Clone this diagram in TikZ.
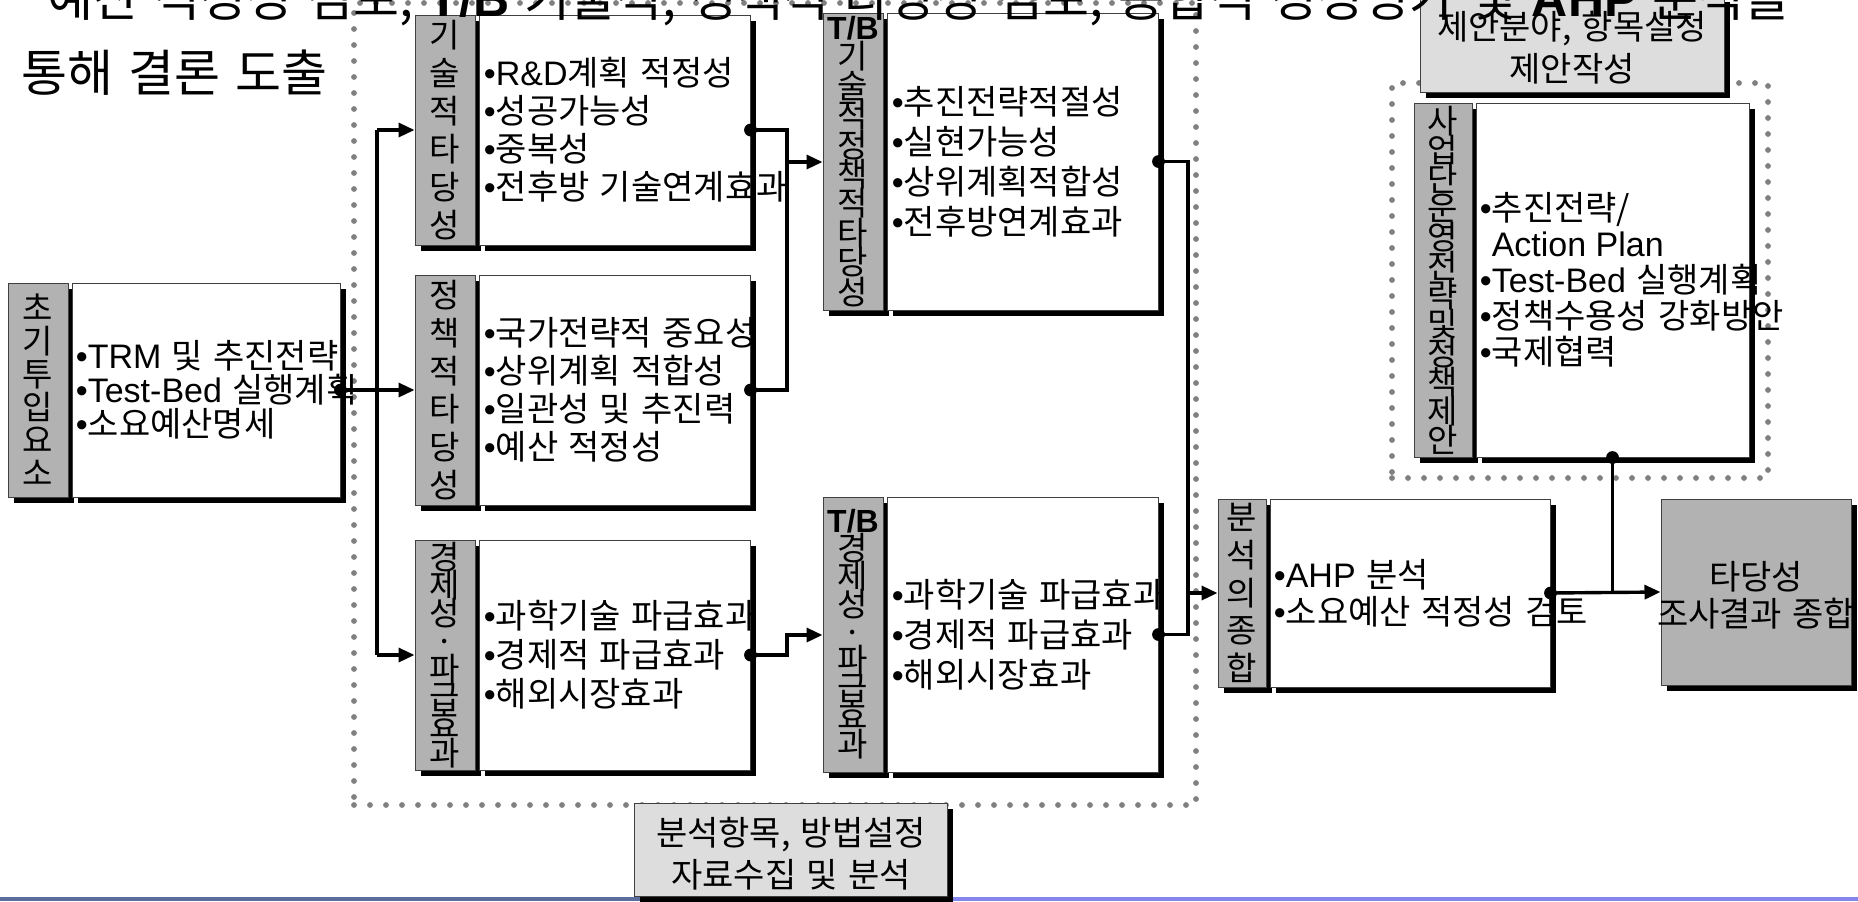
\documentclass[tikz,border=0pt]{standalone}
\usepackage{fontspec}
\setmainfont{Noto Sans CJK KR}[WordSpace=1.35]
\newfontfamily\en{Liberation Sans}
\usetikzlibrary{arrows.meta,shadows,fit}
\lineskiplimit=-\maxdimen

\definecolor{stripgray}{HTML}{B2B2B2}
\definecolor{taggray}{HTML}{DDDDDD}
\definecolor{dotgray}{HTML}{808080}
\definecolor{barslate}{HTML}{5C6C9C}
\definecolor{barblue}{HTML}{8585EE}

\newcommand{\itm}{{\en •}}
\newcommand{\tbmark}{{\en\bfseries\fontsize{16}{14}\selectfont T/B}}

\tikzset{
  boxframe/.style={draw=black!75, line width=0.5pt, inner sep=0pt,
    general shadow={fill=black, shadow xshift=3pt, shadow yshift=-3pt}},
  strip/.style={boxframe, fill=stripgray},
  panel/.style={boxframe, fill=white},
  stack/.style={inner sep=0pt, align=center},
  items/.style={inner sep=0pt, anchor=west, align=left, font=\fontsize{17}{19}\selectfont},
  tagbox/.style={boxframe, fill=taggray},
  tagtext/.style={inner sep=0pt, align=center, font=\fontsize{17}{21}\selectfont},
  zone/.style={draw=dotgray, line width=2.9pt, line cap=round, dash pattern=on 0pt off 8pt, inner sep=0pt},
  link/.style={line width=1.7pt},
  arrowed/.style={-{Triangle[length=8pt,width=7pt]}},
  headline/.style={inner sep=0pt, anchor=base west, font=\fontsize{25}{30}\selectfont}
}

\begin{document}
\begin{tikzpicture}[x=0.5pt,y=-0.5pt]
\useasboundingbox (0,0) rectangle (1858,901);

\node[zone, fit={(354,3) (1196,805)}] (zoneA) {};
\node[zone, fit={(1392,83) (1768,478)}] (zoneB) {};

\fill[barslate] (0,897) rectangle (640,901);
\fill[barblue] (950,897) rectangle (1858,901);

\node[strip, fit={(8,283) (68,497)}] (initlab) {};
\node[stack, font=\fontsize{16.5}{16.5}\selectfont] (initname) at (initlab) {초\\기\\투\\입\\요\\소};
\node[panel, fit={(72,283) (340,497)}] (init) {};
\node[items, font=\fontsize{17}{17}\selectfont] (inittxt) at ([xshift=2pt]init.west) {\itm{\en TRM} 및 추진전략\\\itm{\en Test-Bed} 실행계획\\\itm 소요예산명세};

\node[strip, fit={(415,15) (475,245)}] (techlab) {};
\node[stack, font=\fontsize{16.5}{19}\selectfont] (techname) at (techlab) {기\\술\\적\\타\\당\\성};
\node[panel, fit={(479,15) (750,245)}] (tech) {};
\node[items] (techtxt) at ([xshift=2.5pt]tech.west) {\itm{\en R\&D}계획 적정성\\\itm 성공가능성\\\itm 중복성\\\itm 전후방 기술연계효과};

\node[strip, fit={(415,275) (475,505)}] (policylab) {};
\node[stack, font=\fontsize{16.5}{19}\selectfont] (policyname) at (policylab) {정\\책\\적\\타\\당\\성};
\node[panel, fit={(479,275) (750,505)}] (policy) {};
\node[items] (policytxt) at ([xshift=2.5pt]policy.west) {\itm 국가전략적 중요성\\\itm 상위계획 적합성\\\itm 일관성 및 추진력\\\itm 예산 적정성};

\node[strip, fit={(415,540) (475,770)}] (econlab) {};
\node[stack, font=\fontsize{16.5}{14}\selectfont] (econname) at (econlab) {경\\제\\성\\·\\파\\급\\효\\과};
\node[panel, fit={(479,540) (750,770)}] (econ) {};
\node[items, font=\fontsize{17}{19.5}\selectfont] (econtxt) at ([xshift=2.5pt]econ.west) {\itm 과학기술 파급효과\\\itm 경제적 파급효과\\\itm 해외시장효과};

\node[strip, fit={(823,13) (883,310)}] (tbtechlab) {};
\node[stack, font=\fontsize{16.5}{14.7}\selectfont] (tbtechname) at (tbtechlab) {\tbmark\\기\\술\\적\\정\\책\\적\\타\\당\\성};
\node[panel, fit={(887,13) (1158,310)}] (tbtech) {};
\node[items, font=\fontsize{17}{20}\selectfont] (tbtechtxt) at ([xshift=2.5pt]tbtech.west) {\itm 추진전략적절성\\\itm 실현가능성\\\itm 상위계획적합성\\\itm 전후방연계효과};

\node[strip, fit={(823,497) (883,772)}] (tbeconlab) {};
\node[stack, font=\fontsize{16.5}{14}\selectfont] (tbeconname) at (tbeconlab) {\tbmark\\경\\제\\성\\·\\파\\급\\효\\과};
\node[panel, fit={(887,497) (1158,772)}] (tbecon) {};
\node[items, font=\fontsize{17}{20}\selectfont] (tbecontxt) at ([xshift=2.5pt]tbecon.west) {\itm 과학기술 파급효과\\\itm 경제적 파급효과\\\itm 해외시장효과};

\node[strip, fit={(1218,499) (1266,687)}] (synthlab) {};
\node[stack, font=\fontsize{16.5}{18.8}\selectfont] (synthname) at (synthlab) {분\\석\\의\\종\\합};
\node[panel, fit={(1270,499) (1550,687)}] (synth) {};
\node[items, font=\fontsize{17}{18.5}\selectfont] (synthtxt) at ([xshift=2pt]synth.west) {\itm{\en AHP} 분석\\\itm 소요예산 적정성 검토};

\node[strip, fit={(1414,103) (1472,457)}] (planlab) {};
\node[stack, font=\fontsize{16.5}{14.5}\selectfont] (planname) at (planlab) {사\\업\\단\\운\\영\\전\\략\\및\\정\\책\\제\\안};
\node[panel, fit={(1476,103) (1749,457)}] (plan) {};
\node[items, font=\fontsize{17}{18}\selectfont] (plantxt) at ([xshift=2pt]plan.west) {\itm 추진전략/\\\phantom{\itm}{\en Action Plan}\\\itm{\en Test-Bed} 실행계획\\\itm 정책수용성 강화방안\\\itm 국제협력};

\node[strip, fit={(1661,499) (1851,685)}] (result) {};
\node[tagtext, font=\fontsize{17}{18.5}\selectfont] (resultname) at ([yshift=-1.5pt]result.center) {타당성\\조사결과 종합};

\coordinate (fork) at (377,390);
\coordinate (busA) at (787,162);
\coordinate (busB) at (787,635);
\coordinate (busC) at (1188,593);

\draw[link, arrowed] (init.east) -- (policylab.west);
\draw[link] (fork |- techlab.west) -- (fork |- econlab.west);
\draw[link, arrowed] (fork |- techlab.west) -- (techlab.west);
\draw[link, arrowed] (fork |- econlab.west) -- (econlab.west);
\draw[link] (tech.east) -| (busA) |- (policy.east);
\draw[link, arrowed] (busA) -- (busA -| tbtechlab.west);
\draw[link, arrowed] (econ.east) -| (busB) -- (busB -| tbeconlab.west);
\draw[link] (tbtech.east) -| (busC) |- (tbecon.east);
\draw[link, arrowed] (busC) -- (synthlab.west);
\draw[link, arrowed] (synth.east) -- (result.west);
\draw[link] (plan.south) -- (plan.south |- synth.east);
\foreach \n in {init.east, tech.east, policy.east, econ.east, tbtech.east, tbecon.east, synth.east, plan.south}
  \fill (\n) circle (3.2pt);

\node[tagbox, fit={(634,803) (947,896)}] (tagA) {};
\node[tagtext] (tagAtxt) at (791,854) {분석항목, 방법설정\\자료수집 및 분석};
\node[tagbox, fit={(1420,-4) (1724,92)}] (tagB) {};
\node[tagtext] (tagBtxt) at (1572,48) {제안분야, 항목설정\\제안작성};

\node[headline] (headA) at (47,16) {예산 적정성 검토, {\en\bfseries T/B} 기술적, 정책적 타당성 검토, 종합적 정성평가 및 {\en\bfseries AHP} 분석을};
\node[headline] (headB) at (21,91) {통해 결론 도출};
\end{tikzpicture}
\end{document}
